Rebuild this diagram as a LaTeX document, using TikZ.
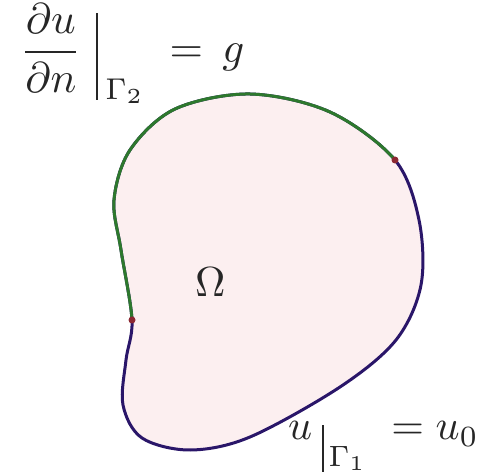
\documentclass[tikz,border=0pt]{standalone}
\usepackage{amsmath}
\definecolor{regionfill}{RGB}{252,239,240}
\definecolor{gtwo}{RGB}{45,120,45}
\definecolor{gone}{RGB}{42,22,105}
\definecolor{joint}{RGB}{140,40,50}
\tikzset{
  bigtext/.style={inner sep=0pt, text=black!85},
  edgeline/.style={line width=3pt, line cap=round},
  jointdot/.style={circle, fill=joint, inner sep=0pt, minimum size=7pt}
}
\newcommand{\bigmath}[2]{\scalebox{#1}{#2}}
\begin{document}
\begin{tikzpicture}[x=1pt,y=-1pt]
\useasboundingbox (0,0) rectangle (488,473);
\def\boundary{plot[smooth cycle, tension=0.55] coordinates {
  (132,320) (121,250) (114,200) (130,150) (175,109) (250,94) (330,112)
  (395,160) (419,220) (421,285) (396,340) (340,387) (250,437) (190,450)
  (142,438) (123,405) (126,360)}}
\fill[regionfill] \boundary;
\draw[edgeline, gone] \boundary;
\begin{scope}
  \clip (53,368) -- (474,112) -- (488,0) -- (0,0) -- (0,368) -- cycle;
  \draw[edgeline, gtwo] \boundary;
\end{scope}
\node[jointdot] (jl) at (132,320) {};
\node[jointdot] (jr) at (395,160) {};
\node[bigtext, anchor=base west] (omega) at (195,297) {\bigmath{4.2}{$\Omega$}};
\node[bigtext, anchor=base west] (neumann) at (20,63)
  {\bigmath{4.3}{$\displaystyle \frac{\partial u}{\partial n}\mkern6mu
   \vrule height 11.6pt depth 8.6pt width 0.55pt\mkern3mu
   \raisebox{-8.4pt}{$\scriptstyle\Gamma_2$}\mkern6mu = \mkern3mu g$}};
\node[bigtext, anchor=base west] (dirichlet) at (288,440)
  {\bigmath{4.2}{$u\mkern4mu\vrule height 3.6pt depth 7.6pt width 0.55pt\mkern2mu
   \raisebox{-6.2pt}{$\scriptstyle\Gamma_1$}\mkern6mu = u_0$}};
\end{tikzpicture}
\end{document}
